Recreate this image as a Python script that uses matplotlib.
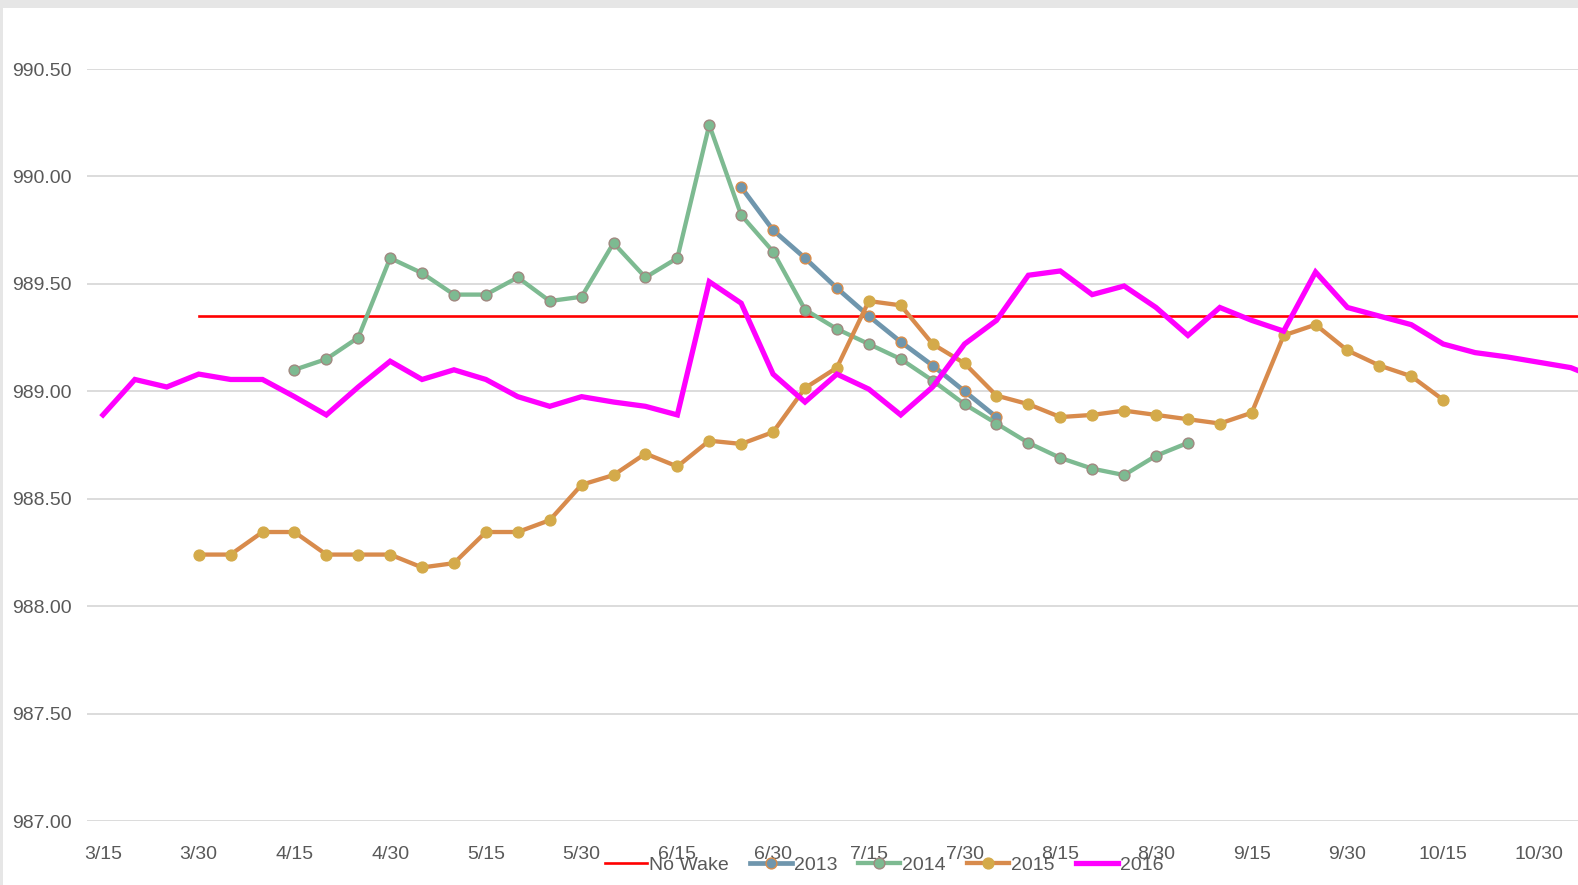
import matplotlib.pyplot as plt
from matplotlib.patches import Rectangle

plt.rcParams['font.family'] = ['Liberation Sans Narrow', 'Liberation Sans', 'DejaVu Sans']

# category labels (every 5 days, only every 3rd is shown)
dates = ['3/15', '3/20', '3/25', '3/30', '4/5', '4/10', '4/15', '4/20', '4/25', '4/30',
         '5/5', '5/10', '5/15', '5/20', '5/25', '5/30', '6/5', '6/10', '6/15', '6/20',
         '6/25', '6/30', '7/5', '7/10', '7/15', '7/20', '7/25', '7/30', '8/5', '8/10',
         '8/15', '8/20', '8/25', '8/30', '9/5', '9/10', '9/15', '9/20', '9/25', '9/30',
         '10/5', '10/10', '10/15', '10/20', '10/25', '10/30', '11/5', '11/10']

no_wake = 989.35
no_wake_start = 3

start_2013 = 20
lake_2013 = [989.95, 989.75, 989.62, 989.48, 989.35, 989.23, 989.12, 989.00, 988.88]

start_2014 = 6
lake_2014 = [989.10, 989.15, 989.25, 989.62, 989.55, 989.45, 989.45, 989.53, 989.42, 989.44,
             989.69, 989.53, 989.62, 990.24, 989.82, 989.65, 989.38, 989.29, 989.22, 989.15,
             989.05, 988.94, 988.85, 988.76, 988.69, 988.64, 988.61, 988.70, 988.76]

start_2015 = 3
lake_2015 = [988.24, 988.24, 988.345, 988.345, 988.24, 988.24, 988.24, 988.18, 988.20, 988.345,
             988.345, 988.40, 988.565, 988.61, 988.71, 988.65, 988.77, 988.755, 988.81, 989.015,
             989.11, 989.42, 989.40, 989.22, 989.13, 988.98, 988.94, 988.88, 988.89, 988.91,
             988.89, 988.87, 988.85, 988.90, 989.26, 989.31, 989.19, 989.12, 989.07, 988.96]

lake_2016 = [988.89, 989.055, 989.02, 989.08, 989.055, 989.055, 988.975, 988.89, 989.02, 989.14,
             989.055, 989.10, 989.055, 988.975, 988.93, 988.975, 988.95, 988.93, 988.89, 989.51,
             989.41, 989.08, 988.95, 989.08, 989.01, 988.89, 989.02, 989.22, 989.33, 989.54,
             989.56, 989.45, 989.49, 989.39, 989.26, 989.39, 989.33, 989.28, 989.555, 989.39,
             989.35, 989.31, 989.22, 989.18, 989.16, 989.135, 989.11, 989.05]

W, H = 1578, 885
fig = plt.figure(figsize=(W / 100, H / 100), dpi=100, facecolor='#e6e6e6')
fig.add_artist(Rectangle((3 / W, 0), 1, (H - 8) / H, transform=fig.transFigure,
                         facecolor='white', edgecolor='none', zorder=-1))

left, right, top, bottom = 87, W, 69, 821
ax = fig.add_axes([left / W, (H - bottom) / H, (right - left) / W, (bottom - top) / H])
ax.set_facecolor('none')

x_all = list(range(len(dates)))
ax.plot(x_all[no_wake_start:], [no_wake] * (len(dates) - no_wake_start),
        color='#ff0000', lw=1.9, label='No Wake', zorder=3)
ax.plot(x_all[start_2013:start_2013 + len(lake_2013)], lake_2013, color='#6f96ad', lw=3.4,
        marker='o', ms=7.8, mfc='#6f96ad', mec='#d98c4a', mew=1.0, label='2013', zorder=4)
ax.plot(x_all[start_2014:start_2014 + len(lake_2014)], lake_2014, color='#7dba91', lw=3.1,
        marker='o', ms=7.8, mfc='#7dba91', mec='#a08880', mew=1.0, label='2014', zorder=5)
ax.plot(x_all[start_2015:start_2015 + len(lake_2015)], lake_2015, color='#d88b4c', lw=3.1,
        marker='o', ms=7.8, mfc='#d4aa4a', mec='#d4aa4a', mew=1.0, label='2015', zorder=6)
ax.plot(x_all[:len(lake_2016)], lake_2016, color='#ff00ff', lw=3.8,
        solid_joinstyle='miter', label='2016', zorder=7)

ax.set_xlim(-0.5, (W - 103) / 31.91)
ax.set_ylim(987.0, 990.5)
ax.set_yticks([987.0 + 0.5 * i for i in range(8)])
ax.set_yticklabels(['%.2f' % (987.0 + 0.5 * i) for i in range(8)])
ax.set_xticks(x_all[::3])
ax.set_xticklabels(dates[::3])
ax.tick_params(axis='both', length=0, labelsize=14, labelcolor='#595959')
ax.tick_params(axis='y', pad=11)
ax.tick_params(axis='x', pad=18)
ax.grid(axis='y', color='#d9d9d9', lw=1.3, zorder=0)
ax.set_axisbelow(True)
for s in ax.spines.values():
    s.set_visible(False)

fig.legend(loc='center', bbox_to_anchor=(884 / W, 1 - 865 / H), ncol=5, frameon=False,
           fontsize=14, labelcolor='#595959', handlelength=2.15, handletextpad=0.1,
           columnspacing=1.1, numpoints=1)

fig.savefig('out.png', dpi=100, facecolor=fig.get_facecolor())
